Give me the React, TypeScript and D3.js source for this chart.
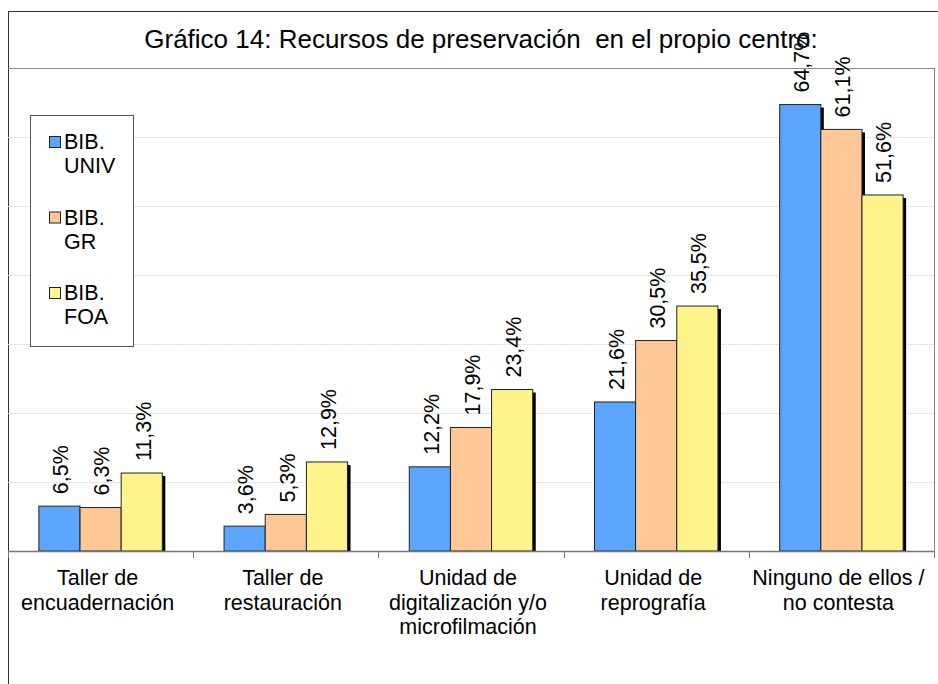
import React from "react";
import * as d3 from "d3";

const width = 938;
const height = 684;

const categories = [
  ["Taller de", "encuadernación"],
  ["Taller de", "restauración"],
  ["Unidad de", "digitalización y/o", "microfilmación"],
  ["Unidad de", "reprografía"],
  ["Ninguno de ellos /", "no contesta"],
];
const seriesNames = ["BIB. UNIV", "BIB. GR", "BIB. FOA"];
const univ = [6.5, 3.6, 12.2, 21.6, 64.7];
const gr = [6.3, 5.3, 17.9, 30.5, 61.1];
const foa = [11.3, 12.9, 23.4, 35.5, 51.6];
const yTicks = [0, 10, 20, 30, 40, 50, 60, 70];

const colors = ["#5CA5FF", "#FFC896", "#FFF38B"];
const font = "'Liberation Sans', Arial, sans-serif";

const plot = { left: 8, right: 934, top: 68, bottom: 551 };

export default function App() {
  const series = [univ, gr, foa];

  const x0 = d3
    .scaleBand()
    .domain(d3.range(categories.length).map(String))
    .range([plot.left, plot.right])
    .paddingInner(0)
    .paddingOuter(0);

  const x1 = d3
    .scaleBand()
    .domain(d3.range(series.length).map(String))
    .range([0, x0.bandwidth()])
    .paddingInner(0)
    .paddingOuter(0.75);

  const y = d3.scaleLinear().domain([0, 70]).range([plot.bottom, plot.top]);

  const fmt = (v: number) => v.toFixed(1).replace(".", ",") + "%";

  return (
    <svg
      width={width}
      height={height}
      style={{ position: "absolute", left: 0, top: 0, background: "#fff" }}
      fontFamily={font}
    >
      {/* outer frame */}
      <line x1={8.5} x2={8.5} y1={11} y2={height} stroke="#333" />
      <line x1={8} x2={width} y1={11.5} y2={11.5} stroke="#333" />

      <text x={481} y={48} textAnchor="middle" fontSize={26} fill="#000" style={{ whiteSpace: "pre" }}>
        {"Gráfico 14: Recursos de preservación  en el propio centro:"}
      </text>

      {/* gridlines */}
      {yTicks.slice(1, -1).map((t) => (
        <line
          key={t}
          x1={plot.left}
          x2={plot.right}
          y1={Math.round(y(t)) + 0.5}
          y2={Math.round(y(t)) + 0.5}
          stroke="#dcdcdc"
          strokeDasharray="2,1"
        />
      ))}
      <line x1={plot.left} x2={plot.right} y1={plot.top + 0.5} y2={plot.top + 0.5} stroke="#8a8a8a" />
      <line x1={plot.right + 0.5} x2={plot.right + 0.5} y1={plot.top} y2={plot.bottom} stroke="#8a8a8a" />

      {/* bars */}
      {categories.map((_, i) => (
        <g key={i} transform={`translate(${x0(String(i))},0)`}>
          {series.map((s, j) => {
            const bx = x1(String(j))!;
            const by = y(s[i]);
            const bh = plot.bottom - by;
            return (
              <rect key={j} x={bx + 3} y={by + 3} width={x1.bandwidth()} height={bh - 3} fill="#000" />
            );
          })}
          {series.map((s, j) => {
            const bx = x1(String(j))!;
            const by = y(s[i]);
            const bh = plot.bottom - by;
            return (
              <rect
                key={j}
                x={bx}
                y={by}
                width={x1.bandwidth()}
                height={bh}
                fill={colors[j]}
                stroke="#222"
                strokeWidth={1}
              />
            );
          })}
          {series.map((s, j) => {
            const cx = x1(String(j))! + x1.bandwidth() / 2;
            const by = y(s[i]);
            return (
              <text
                key={j}
                transform={`translate(${cx + 1},${by - 12}) rotate(-90)`}
                dy="0.36em"
                fontSize={21.5}
                fill="#000"
              >
                {fmt(s[i])}
              </text>
            );
          })}
        </g>
      ))}

      {/* x axis */}
      <line x1={plot.left} x2={plot.right} y1={plot.bottom + 0.5} y2={plot.bottom + 0.5} stroke="#777" strokeWidth={1.5} />
      {d3.range(categories.length + 1).map((i) => {
        const tx = Math.round(plot.left + i * x0.bandwidth()) + 0.5;
        return <line key={i} x1={tx} x2={tx} y1={plot.bottom} y2={plot.bottom + 7} stroke="#777" />;
      })}
      {categories.map((lines, i) => (
        <text
          key={i}
          x={x0(String(i))! + x0.bandwidth() / 2 - 3}
          y={585}
          textAnchor="middle"
          fontSize={21.5}
          fill="#000"
        >
          {lines.map((l, k) => (
            <tspan key={k} x={x0(String(i))! + x0.bandwidth() / 2 - 3} dy={k === 0 ? 0 : 24.5}>
              {l}
            </tspan>
          ))}
        </text>
      ))}

      {/* legend */}
      <rect x={30.5} y={115.5} width={103} height={231} fill="#fff" stroke="#555" />
      {seriesNames.map((name, j) => {
        const [a, b] = name.split(" ");
        const top = 136 + j * 75.5;
        return (
          <g key={name}>
            <rect x={49.5} y={top + 0.5} width={11} height={11} fill={colors[j]} stroke="#222" />
            <text x={64} y={top + 13} fontSize={21.5} fill="#000">
              {a}
            </text>
            <text x={64} y={top + 37} fontSize={21.5} fill="#000">
              {b}
            </text>
          </g>
        );
      })}
    </svg>
  );
}
